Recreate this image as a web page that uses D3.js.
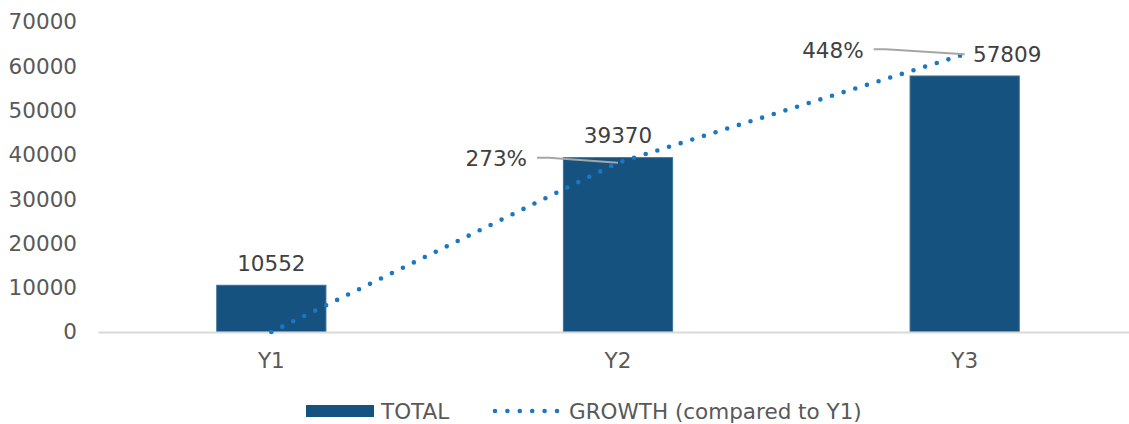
<!DOCTYPE html>
<html>
<head>
<meta charset="utf-8">
<script src="https://cdn.jsdelivr.net/npm/d3@7"></script>
<style>
  html, body { margin: 0; padding: 0; background: #fff; }
  svg { display: block; font-family: "DejaVu Sans", Verdana, sans-serif; }
</style>
</head>
<body>
<svg id="chart" width="1129" height="424"></svg>
<script>
// Totals per year and growth relative to Y1
const categories = ["Y1", "Y2", "Y3"];
const totals = [10552, 39370, 57809];
const growth = [0, 2.73, 4.48];
const growthLabels = ["", "273%", "448%"];
const yTicks = [0, 10000, 20000, 30000, 40000, 50000, 60000, 70000];
const legendLabels = ["TOTAL", "GROWTH (compared to Y1)"];

const svg = d3.select("#chart");
const barColor = "#15527f";
const lineColor = "#1b77c2";
const tickColor = "#595959";
const labelColor = "#404040";
const fs = 21.5;

const x = d3.scaleBand().domain(categories).range([98, 1138]).paddingInner(0.685).paddingOuter(0.3425);
const y = d3.scaleLinear().domain([0, 70000]).range([332, 22]);
const y2 = d3.scaleLinear().domain([0, 5]).range([332, 22]);

// value axis (labels only)
const yAxis = svg.append("g")
  .attr("transform", "translate(87,0)")
  .call(d3.axisLeft(y).tickValues(yTicks).tickSize(0).tickPadding(10).tickFormat(d3.format("d")));
yAxis.select(".domain").remove();
yAxis.selectAll("text").attr("fill", tickColor).attr("font-size", fs).attr("font-family", "DejaVu Sans");

// bars
svg.append("g").selectAll("rect").data(categories).join("rect")
  .attr("x", d => x(d))
  .attr("width", x.bandwidth())
  .attr("y", (d, i) => y(totals[i]))
  .attr("height", (d, i) => y(0) - y(totals[i]))
  .attr("fill", barColor)
  .attr("stroke", "#3d6f96")
  .attr("stroke-width", 1);

// category axis
const xAxis = svg.append("g")
  .attr("transform", `translate(0,${y(0)})`)
  .call(d3.axisBottom(x).tickSize(0).tickPadding(21));
xAxis.select(".domain").attr("stroke", "#d9d9d9").attr("stroke-width", 2);
xAxis.selectAll("text").attr("fill", tickColor).attr("font-size", fs).attr("font-family", "DejaVu Sans");

// growth line, dotted
const cx = d => x(d) + x.bandwidth() / 2;
const line = d3.line().x((d, i) => cx(categories[i])).y(d => y2(d));
svg.append("path")
  .datum(growth)
  .attr("d", line)
  .attr("fill", "none")
  .attr("stroke", lineColor)
  .attr("stroke-width", 4.6)
  .attr("stroke-linecap", "round")
  .attr("stroke-dasharray", "0 12.2");

// bar value labels
const valueOffsets = [0, 0, 42.5];
svg.append("g").selectAll("text").data(categories).join("text")
  .attr("x", (d, i) => cx(d) + valueOffsets[i])
  .attr("y", (d, i) => y(totals[i]) - 22)
  .attr("dy", "0.35em")
  .attr("text-anchor", "middle")
  .attr("font-size", fs)
  .attr("fill", labelColor)
  .text((d, i) => totals[i]);

// growth labels with leader lines
const growthLabelPos = [null, { dx: -91, dy: -4 }, { dx: -101, dy: -4 }];
growth.forEach((g, i) => {
  const p = growthLabelPos[i];
  if (!p) return;
  const px = cx(categories[i]), py = y2(g);
  const lx = px + p.dx, ly = py + p.dy;
  svg.append("path")
    .attr("d", `M${lx + 10},${ly - 1} L${lx + 22},${ly - 1} L${px},${py}`)
    .attr("fill", "none")
    .attr("stroke", "#a6a6a6")
    .attr("stroke-width", 1.8);
  svg.append("text")
    .attr("x", lx)
    .attr("y", ly)
    .attr("dy", "0.35em")
    .attr("text-anchor", "end")
    .attr("font-size", fs)
    .attr("fill", labelColor)
    .text(growthLabels[i]);
});

// legend
const lg = svg.append("g");
lg.append("rect").attr("x", 306).attr("y", 405).attr("width", 68).attr("height", 12).attr("fill", barColor);
lg.append("text").attr("x", 381).attr("y", 411).attr("dy", "0.35em")
  .attr("font-size", fs).attr("fill", tickColor).text(legendLabels[0]);
lg.append("line").attr("x1", 495).attr("x2", 558).attr("y1", 411).attr("y2", 411)
  .attr("stroke", lineColor).attr("stroke-width", 4.6).attr("stroke-linecap", "round")
  .attr("stroke-dasharray", "0 12.4");
lg.append("text").attr("x", 569).attr("y", 411).attr("dy", "0.35em")
  .attr("font-size", fs).attr("fill", tickColor).text(legendLabels[1]);
</script>
</body>
</html>
